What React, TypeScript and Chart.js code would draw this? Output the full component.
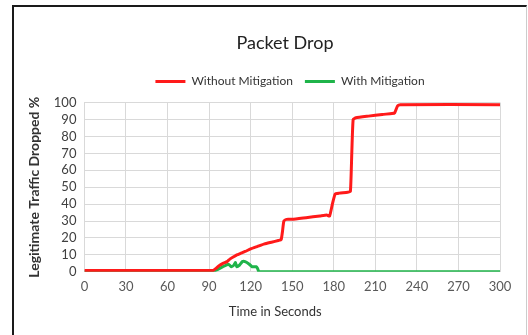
import React, { useEffect, useRef } from "react";
import { Chart, registerables } from "chart.js";

Chart.register(...registerables);

const withoutX = [0, 90, 93, 95, 97, 100, 103, 105, 108, 110, 113, 116, 120, 125, 130, 135, 140, 142, 143, 144, 146, 150, 160, 170, 175, 177, 179, 181, 184, 190, 192, 193, 194, 196, 205, 215, 222, 224, 226, 228, 300];
const withoutY = [0.8, 0.8, 0.8, 2, 3.5, 5, 6, 7.5, 9, 10, 11, 12, 13.5, 15, 16.5, 17.5, 18.5, 19, 24, 30, 31, 31, 32, 33, 33.5, 33, 40, 46, 46.5, 47, 47.5, 70, 90, 91, 92, 93, 93.5, 94, 98, 98.8, 98.8];

const withX = [0, 92, 95, 100, 104, 106, 108, 109, 110, 112, 114, 116, 119, 121, 124, 125, 126, 300];
const withY = [0, 0, 1, 3, 4.5, 3, 4, 5.5, 3, 4, 6, 6, 4.5, 3, 3, 2, 0, 0];

const xTicks = [0, 30, 60, 90, 120, 150, 180, 210, 240, 270, 300];
const yTicks = [0, 10, 20, 30, 40, 50, 60, 70, 80, 90, 100];

const seriesNames = ["Without Mitigation", "With Mitigation"];

const shiftPlugin = {
  id: "shiftBlocks",
  beforeInit(chart: any) {
    const lg = chart.legend;
    if (lg && !lg.__patched) {
      const fit = lg.fit;
      lg.fit = function (this: any) {
        fit.call(this);
        this.height += 5;
      };
      lg.__patched = true;
    }
  },
  afterLayout(chart: any) {
    const t = chart.titleBlock;
    if (t) {
      t.left += 24;
      t.right += 24;
    }
    const l = chart.legend;
    if (l) {
      l.left += 29;
      l.right += 29;
    }
    const xs = chart.scales.x;
    if (xs && !xs.__patched) {
      const dt = xs.drawTitle;
      xs.drawTitle = function (this: any, ...args: any[]) {
        const c = this.ctx;
        c.save();
        c.translate(-17, 0);
        dt.apply(this, args);
        c.restore();
      };
      xs.__patched = true;
    }
  },
};

export default function App() {
  const ref = useRef<HTMLCanvasElement>(null);
  useEffect(() => {
    document.body.style.margin = "0";
    const ctx = ref.current!;
    const font = "Lato, 'Open Sans', sans-serif";
    const chart = new Chart(ctx, {
      type: "line",
      data: {
        datasets: [
          {
            label: seriesNames[0],
            data: withoutX.map((x, i) => ({ x, y: withoutY[i] })),
            borderColor: "#ff1a1a",
            backgroundColor: "#ff1a1a",
            borderWidth: 3,
            pointRadius: 0,
            tension: 0.15,
          },
          {
            label: seriesNames[1],
            data: withX.map((x, i) => ({ x, y: withY[i] })),
            borderColor: "#1fb44a",
            backgroundColor: "#1fb44a",
            borderWidth: 3,
            pointRadius: 0,
            tension: 0.15,
          },
        ],
      },
      plugins: [shiftPlugin],
      options: {
        animation: false,
        responsive: false,
        layout: { padding: { left: 22, right: 28, top: 24, bottom: 11 } },
        plugins: {
          title: {
            display: true,
            text: "Packet Drop",
            color: "#222",
            font: { family: font, size: 18, weight: "normal" },
            padding: { top: 8, bottom: 10 },
          },
          legend: {
            position: "top",
            labels: {
              usePointStyle: true,
              pointStyle: "line",
              pointStyleWidth: 30,
              color: "#333",
              font: { family: font, size: 12 },
              padding: 12,
            },
          },
          tooltip: { enabled: false },
        },
        scales: {
          x: {
            type: "linear",
            min: 0,
            max: 300,
            afterBuildTicks: (axis: any) => {
              axis.ticks = xTicks.map((v) => ({ value: v }));
            },
            grid: { color: "#d9d9d9", drawTicks: false },
            border: { color: "#d9d9d9" },
            ticks: { color: "#595959", font: { family: font, size: 13 }, padding: 7, maxRotation: 0, autoSkip: false },
            title: {
              display: true,
              text: "Time in Seconds",
              color: "#333",
              font: { family: font, size: 13 },
              padding: { top: 3 },
            },
          },
          y: {
            min: 0,
            max: 100,
            afterBuildTicks: (axis: any) => {
              axis.ticks = yTicks.map((v) => ({ value: v }));
            },
            grid: { color: "#d9d9d9", drawTicks: false },
            border: { display: false },
            ticks: { color: "#404040", font: { family: font, size: 13 }, padding: 8, autoSkip: false },
            title: {
              display: true,
              text: "Legitimate Traffic Dropped %",
              color: "#333",
              font: { family: font, size: 14, weight: "bold" },
              padding: { bottom: 3 },
            },
          },
        },
      },
    });
    return () => chart.destroy();
  }, []);
  return (
    <div style={{ position: "relative", width: 528, height: 335, background: "#fff", overflow: "hidden" }}>
      <div
        style={{
          position: "absolute",
          left: 12,
          top: 5,
          width: 512,
          height: 340,
          borderLeft: "2px solid #1a1a1a",
          borderTop: "2px solid #1a1a1a",
          borderRight: "1px solid #ccc",
        }}
      />
      <canvas ref={ref} width={528} height={335} style={{ position: "absolute", left: 0, top: 0 }} />
    </div>
  );
}
